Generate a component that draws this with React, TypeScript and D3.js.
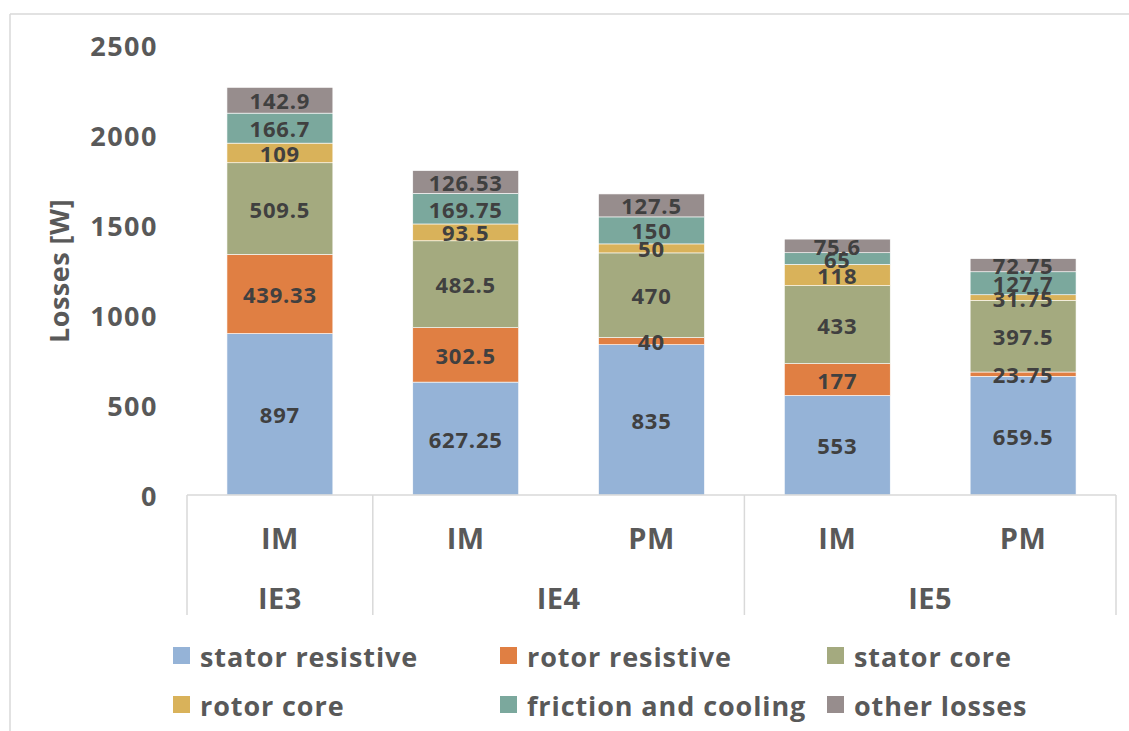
import React from "react";
import * as d3 from "d3";

const categories = ["IE3 IM", "IE4 IM", "IE4 PM", "IE5 IM", "IE5 PM"];
const motorLabels = ["IM", "IM", "PM", "IM", "PM"];
const groups = [
  { label: "IE3", start: 0, end: 1 },
  { label: "IE4", start: 1, end: 3 },
  { label: "IE5", start: 3, end: 5 },
];
const seriesNames = [
  "stator resistive",
  "rotor resistive",
  "stator core",
  "rotor core",
  "friction and cooling",
  "other losses",
];
const statorResistive = [897, 627.25, 835, 553, 659.5];
const rotorResistive = [439.33, 302.5, 40, 177, 23.75];
const statorCore = [509.5, 482.5, 470, 433, 397.5];
const rotorCore = [109, 93.5, 50, 118, 31.75];
const frictionCooling = [166.7, 169.75, 150, 65, 127.7];
const otherLosses = [142.9, 126.53, 127.5, 75.6, 72.75];
const yTicks = [0, 500, 1000, 1500, 2000, 2500];

const seriesValues = [
  statorResistive,
  rotorResistive,
  statorCore,
  rotorCore,
  frictionCooling,
  otherLosses,
];
const colors = ["#95B3D7", "#E07F43", "#A4AA7F", "#D9B25A", "#7BA89D", "#978D8D"];

const FONT = "'Open Sans', 'DejaVu Sans', sans-serif";

export default function App() {
  const W = 1129;
  const H = 731;
  const x = d3
    .scaleBand<string>()
    .domain(categories)
    .range([187, 1116])
    .paddingInner(0.43)
    .paddingOuter(0.215);
  const y = d3.scaleLinear().domain([0, 2500]).range([495, 45]);

  const table = categories.map((c, i) => {
    const row: any = { cat: c };
    seriesNames.forEach((s, j) => (row[s] = seriesValues[j][i]));
    return row;
  });
  const stacked = d3.stack<any>().keys(seriesNames)(table);

  const step = x.step();
  const x0 = x.range()[0];
  const axisY = y(0);
  const axisBottom = 615;

  const legendCols = [173, 500, 827];
  const legendRows = [647, 696];

  return (
    <svg
      width={W}
      height={H}
      style={{ position: "absolute", left: 0, top: 0, background: "#fff" }}
      fontFamily={FONT}
    >
      {/* outer frame */}
      <line x1={10} y1={14} x2={W} y2={14} stroke="#d9d9d9" strokeWidth={1.5} />
      <line x1={10} y1={14} x2={10} y2={H} stroke="#d9d9d9" strokeWidth={1.5} />

      {/* y tick labels */}
      {yTicks.map((t) => (
        <text
          key={t}
          x={158}
          y={y(t)}
          textAnchor="end"
          dominantBaseline="central"
          fontSize={27}
          fontWeight={700}
          fill="#595959"
          letterSpacing={1.5}
        >
          {t}
        </text>
      ))}

      {/* y title */}
      <text
        transform={`translate(58, 271) rotate(-90)`}
        textAnchor="middle"
        dominantBaseline="central"
        fontSize={27}
        fontWeight={700}
        fill="#595959"
        letterSpacing={0.5}
      >
        Losses [W]
      </text>

      {/* bars */}
      {stacked.map((layer, j) => (
        <g key={seriesNames[j]} fill={colors[j]}>
          {layer.map((d, i) => (
            <rect
              key={i}
              x={x(categories[i])}
              y={y(d[1])}
              width={x.bandwidth()}
              height={y(d[0]) - y(d[1])}
              stroke="#fff"
              strokeWidth={0.6}
            />
          ))}
        </g>
      ))}

      {/* data labels */}
      {stacked.map((layer, j) => (
        <g key={"l" + seriesNames[j]}>
          {layer.map((d, i) => (
            <text
              key={i}
              x={(x(categories[i]) as number) + x.bandwidth() / 2}
              y={y((d[0] + d[1]) / 2)}
              textAnchor="middle"
              dominantBaseline="central"
              fontSize={22}
              fontWeight={700}
              fill="#404040"
              letterSpacing={0.8}
            >
              {String(seriesValues[j][i])}
            </text>
          ))}
        </g>
      ))}

      {/* category axis */}
      <line x1={x0} y1={axisY} x2={x.range()[1]} y2={axisY} stroke="#d9d9d9" strokeWidth={1.5} />
      {[0, 1, 3, 5].map((b) => (
        <line
          key={b}
          x1={x0 + b * step}
          y1={axisY}
          x2={x0 + b * step}
          y2={axisBottom}
          stroke="#d9d9d9"
          strokeWidth={1.5}
        />
      ))}
      {categories.map((c, i) => (
        <text
          key={c}
          x={(x(c) as number) + x.bandwidth() / 2}
          y={537}
          textAnchor="middle"
          dominantBaseline="central"
          fontSize={29}
          fontWeight={700}
          fill="#595959"
          letterSpacing={0.5}
        >
          {motorLabels[i]}
        </text>
      ))}
      {groups.map((g) => (
        <text
          key={g.label}
          x={x0 + ((g.start + g.end) / 2) * step}
          y={597}
          textAnchor="middle"
          dominantBaseline="central"
          fontSize={29}
          fontWeight={700}
          fill="#595959"
          letterSpacing={0.5}
        >
          {g.label}
        </text>
      ))}

      {/* legend */}
      {seriesNames.map((s, j) => {
        const cx = legendCols[j % 3];
        const ry = legendRows[Math.floor(j / 3)];
        return (
          <g key={"lg" + s}>
            <rect x={cx} y={ry} width={17} height={17} fill={colors[j]} />
            <text
              x={cx + 27}
              y={ry + 9}
              dominantBaseline="central"
              fontSize={27}
              fontWeight={700}
              fill="#595959"
              letterSpacing={0.9}
            >
              {s}
            </text>
          </g>
        );
      })}
    </svg>
  );
}
